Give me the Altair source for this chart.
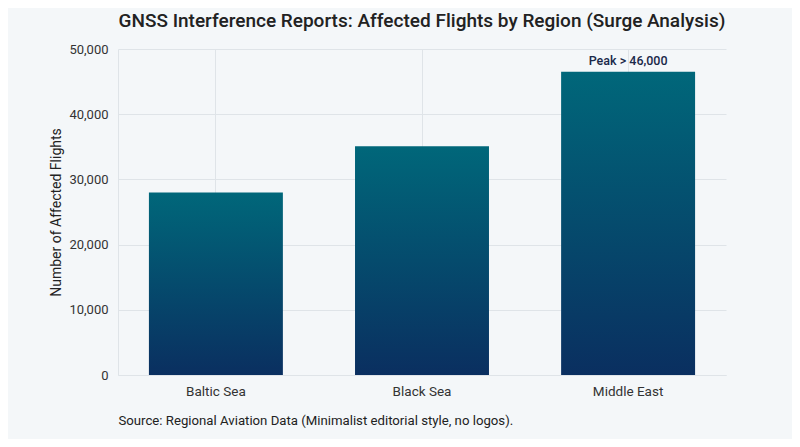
import altair as alt
import pandas as pd

regions = ["Baltic Sea", "Black Sea", "Middle East"]
flights = [28000, 35100, 46500]
annot_region = ["Middle East"]
annot_value = [46500]
annot_text = ["Peak > 46,000"]
y_ticks = [0, 10000, 20000, 30000, 40000, 50000]

df = pd.DataFrame({"region": regions, "flights": flights})
adf = pd.DataFrame({"region": annot_region, "flights": annot_value, "label": annot_text})

grad = alt.Gradient(
    gradient="linear",
    stops=[alt.GradientStop(color="#00677a", offset=0),
           alt.GradientStop(color="#0a2f60", offset=1)],
    x1=0, x2=0, y1=0, y2=1,
)

x_enc = alt.X(
    "region:N", sort=regions,
    scale=alt.Scale(paddingInner=0.35, paddingOuter=0.15),
    axis=alt.Axis(
        title="Source: Regional Aviation Data (Minimalist editorial style, no logos).",
        titleAnchor="start", titleAlign="left", titleFontSize=13.2,
        titleFontWeight="normal", titleColor="#222222", titlePadding=17,
        labelAngle=0, labelFontSize=13.5, labelColor="#333333", labelPadding=9,
        ticks=False, grid=True, gridColor="#dfe4e8",
        domainColor="#dfe4e8",
    ),
)
y_enc = alt.Y(
    "flights:Q",
    scale=alt.Scale(domain=[0, 50000], nice=False),
    axis=alt.Axis(
        title="Number of Affected Flights", titleFontSize=14,
        titleFontWeight="normal", titleColor="#222222", titlePadding=5,
        values=y_ticks, format=",d", labelFontSize=13, labelColor="#333333",
        labelPadding=10, ticks=False, grid=True, gridColor="#dfe4e8",
        domainColor="#dfe4e8",
    ),
)

bars = alt.Chart(df).mark_bar(color=grad).encode(x=x_enc, y=y_enc)
labels = alt.Chart(adf).mark_text(
    baseline="bottom", dy=-4, fontSize=12.5, fontWeight=500,
    font="Roboto Medium, Roboto", color="#1b2a4a"
).encode(x=alt.X("region:N", sort=regions), y="flights:Q", text="label:N")

chart = alt.layer(bars, labels).properties(
    width=608, height=326,
    title=alt.TitleParams(
        "GNSS Interference Reports: Affected Flights by Region (Surge Analysis)",
        fontSize=19, fontWeight=500, font="Roboto Medium, Roboto",
        color="#222222", anchor="middle", offset=12,
    ),
    padding={"left": 110, "top": 41, "right": 66, "bottom": 64},
    autosize=alt.AutoSizeParams(type="none"),
    background="#f4f7f9",
).configure(font="Roboto").configure_view(stroke=None)

chart.save("out.html", embed_options={"renderer": "svg", "actions": False})
